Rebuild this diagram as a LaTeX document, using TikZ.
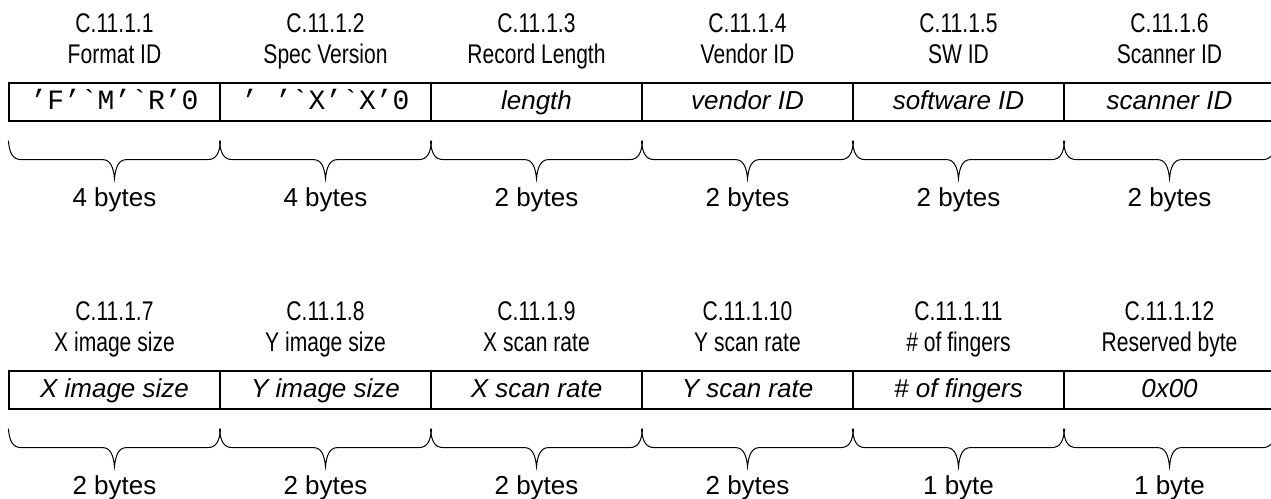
\documentclass[tikz,border=0pt]{standalone}
\usepackage{fontspec}
\usetikzlibrary{calc}
\newfontfamily\headfont[FakeStretch=0.78]{Liberation Sans}
\newfontfamily\boxfont{Liberation Sans}
\newfontfamily\codefont[Ligatures=TeXOff]{Liberation Mono}

\begin{document}
\begin{tikzpicture}
    [x=1pt, y=-1pt, line width=1.2pt,
     field/.style={draw, rectangle, minimum width=211pt, minimum height=38pt, inner sep=0pt,
       text height=19pt, text depth=5pt, font=\fontsize{26}{31}\selectfont\boxfont\itshape},
     code/.style={field, font=\fontsize{28}{31}\selectfont\codefont},
     head/.style={anchor=base, inner sep=0pt, font=\fontsize{27}{31}\selectfont\headfont},
     size/.style={anchor=base, inner sep=0pt, font=\fontsize{26}{31}\selectfont\boxfont},
     bytebrace/.style={line width=1pt, to path={
       ($(\tikztostart)!0.5!(\tikztotarget)$) coordinate (bm)
       ([yshift=-19pt]\tikztostart)
         .. controls ([xshift=1pt,yshift=-31pt]\tikztostart) and ([xshift=4pt,yshift=-38pt]\tikztostart)
         .. ([xshift=13pt,yshift=-38pt]\tikztostart)
       -- ($(bm)+(-12pt,-38pt)$)
         .. controls ($(bm)+(-4pt,-38pt)$) and ($(bm)+(-1pt,-46pt)$) .. ($(bm)+(0pt,-57pt)$)
         .. controls ($(bm)+(1pt,-46pt)$) and ($(bm)+(4pt,-38pt)$) .. ($(bm)+(12pt,-38pt)$)
       -- ([xshift=-13pt,yshift=-38pt]\tikztotarget)
         .. controls ([xshift=-4pt,yshift=-38pt]\tikztotarget) and ([xshift=-1pt,yshift=-31pt]\tikztotarget)
         .. ([yshift=-19pt]\tikztotarget)}}]
    \useasboundingbox (0,0) rectangle (1271,498);

    % first row: header fields
    \node[head] (id1) at (114.5,32) {C.11.1.1};
    \node[head] (id2) at (325.5,32) {C.11.1.2};
    \node[head] (id3) at (536.5,32) {C.11.1.3};
    \node[head] (id4) at (747.5,32) {C.11.1.4};
    \node[head] (id5) at (958.5,32) {C.11.1.5};
    \node[head] (id6) at (1169.5,32) {C.11.1.6};
    \node[head] (name1) at (114.5,63) {Format ID};
    \node[head] (name2) at (325.5,63) {Spec Version};
    \node[head] (name3) at (536.5,63) {Record Length};
    \node[head] (name4) at (747.5,63) {Vendor ID};
    \node[head] (name5) at (958.5,63) {SW ID};
    \node[head] (name6) at (1169.5,63) {Scanner ID};

    \node[code] (f1) at (114.5,102) {’F’`M’`R’0};
    \node[code] (f2) at (325.5,102) {’ ’`X’`X’0};
    \node[field] (f3) at (536.5,102) {length};
    \node[field] (f4) at (747.5,102) {vendor ID};
    \node[field] (f5) at (958.5,102) {software ID};
    \node[field] (f6) at (1169.5,102) {scanner ID};

    \draw[bytebrace] (f1.south west) to (f1.south east);
    \draw[bytebrace] (f2.south west) to (f2.south east);
    \draw[bytebrace] (f3.south west) to (f3.south east);
    \draw[bytebrace] (f4.south west) to (f4.south east);
    \draw[bytebrace] (f5.south west) to (f5.south east);
    \draw[bytebrace] (f6.south west) to (f6.south east);

    \node[size] (s1) at (114.5,206) {4 bytes};
    \node[size] (s2) at (325.5,206) {4 bytes};
    \node[size] (s3) at (536.5,206) {2 bytes};
    \node[size] (s4) at (747.5,206) {2 bytes};
    \node[size] (s5) at (958.5,206) {2 bytes};
    \node[size] (s6) at (1169.5,206) {2 bytes};

    % second row: image and scan fields
    \node[head] (id7) at (114.5,320) {C.11.1.7};
    \node[head] (id8) at (325.5,320) {C.11.1.8};
    \node[head] (id9) at (536.5,320) {C.11.1.9};
    \node[head] (id10) at (747.5,320) {C.11.1.10};
    \node[head] (id11) at (958.5,320) {C.11.1.11};
    \node[head] (id12) at (1169.5,320) {C.11.1.12};
    \node[head] (name7) at (114.5,351) {X image size};
    \node[head] (name8) at (325.5,351) {Y image size};
    \node[head] (name9) at (536.5,351) {X scan rate};
    \node[head] (name10) at (747.5,351) {Y scan rate};
    \node[head] (name11) at (958.5,351) {\# of fingers};
    \node[head] (name12) at (1169.5,351) {Reserved byte};

    \node[field] (f7) at (114.5,390) {X image size};
    \node[field] (f8) at (325.5,390) {Y image size};
    \node[field] (f9) at (536.5,390) {X scan rate};
    \node[field] (f10) at (747.5,390) {Y scan rate};
    \node[field] (f11) at (958.5,390) {\# of fingers};
    \node[field] (f12) at (1169.5,390) {0x00};

    \draw[bytebrace] (f7.south west) to (f7.south east);
    \draw[bytebrace] (f8.south west) to (f8.south east);
    \draw[bytebrace] (f9.south west) to (f9.south east);
    \draw[bytebrace] (f10.south west) to (f10.south east);
    \draw[bytebrace] (f11.south west) to (f11.south east);
    \draw[bytebrace] (f12.south west) to (f12.south east);

    \node[size] (s7) at (114.5,494) {2 bytes};
    \node[size] (s8) at (325.5,494) {2 bytes};
    \node[size] (s9) at (536.5,494) {2 bytes};
    \node[size] (s10) at (747.5,494) {2 bytes};
    \node[size] (s11) at (958.5,494) {1 byte};
    \node[size] (s12) at (1169.5,494) {1 byte};
  \end{tikzpicture}
\end{document}
